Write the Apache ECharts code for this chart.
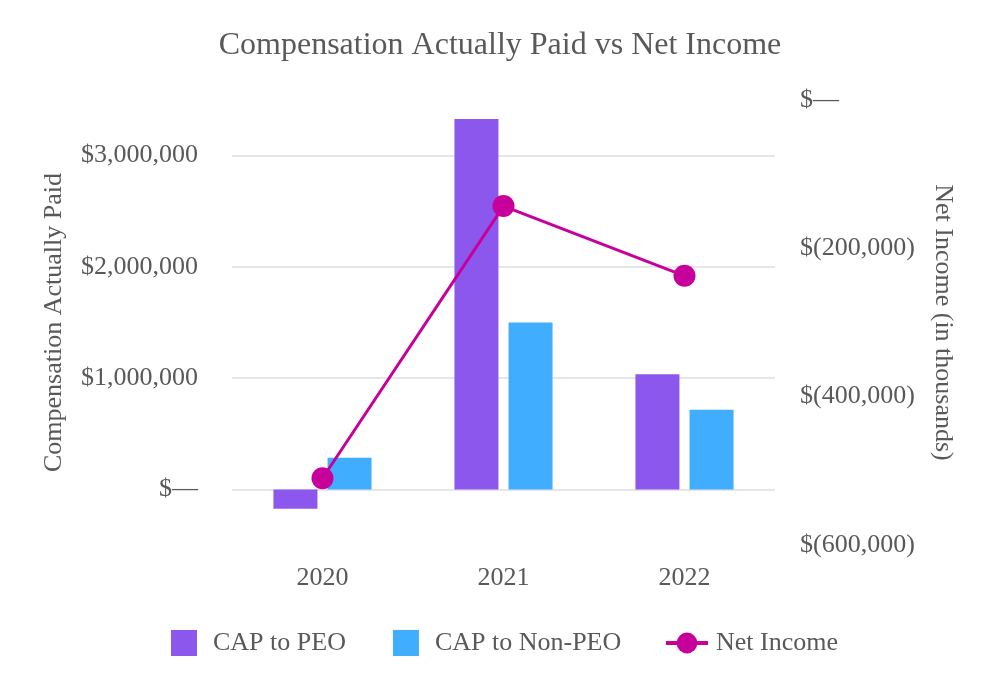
<!DOCTYPE html>
<html><head><meta charset="utf-8">
<script src="https://cdn.jsdelivr.net/npm/echarts@6/dist/echarts.min.js"></script>
<style>html,body{margin:0;padding:0;background:#fff}#c{width:1000px;height:700px}</style>
</head><body><div id="c"></div>
<script>
const categories = ['2020', '2021', '2022'];
const capPEO = [-175000, 3330000, 1035000];
const capNonPEO = [285000, 1500000, 715000];
const netIncome = [-510000, -143000, -237000];
const leftTicks = [0, 1000000, 2000000, 3000000];
const rightTicks = [0, -200000, -400000, -600000];

const FONT = 'Liberation Serif';
const TXT = '#595959';
function fmtLeft(v){ return v === 0 ? '$\u2014' : '$' + Math.round(v).toLocaleString('en-US'); }
function fmtRight(v){ if (v === 0) return '$\u2014'; return v < 0 ? '$(' + Math.abs(v).toLocaleString('en-US') + ')' : '$' + v.toLocaleString('en-US'); }

const chart = echarts.init(document.getElementById('c'), null, {renderer: 'canvas'});
chart.setOption({
  animation: false,
  backgroundColor: '#ffffff',
  textStyle: {fontFamily: FONT, color: TXT},
  title: {
    text: 'Compensation Actually Paid vs Net Income',
    left: 'center', top: 25,
    textStyle: {fontFamily: FONT, fontSize: 32, fontWeight: 'normal', color: TXT}
  },
  legend: [{
    data: ['CAP to PEO', 'CAP to Non-PEO'],
    left: 171, top: 630, padding: 0, itemWidth: 26, itemHeight: 26, itemGap: 47,
    icon: 'rect',
    textStyle: {fontFamily: FONT, fontSize: 26, color: TXT, padding: [0, 0, 0, 11]}
  }, {
    data: ['Net Income'],
    left: 664, top: 630, padding: 0, itemWidth: 42, itemHeight: 26,
    lineStyle: {width: 4},
    textStyle: {fontFamily: FONT, fontSize: 26, color: TXT, padding: [0, 0, 0, 3]}
  }],
  grid: {left: 232, right: 225, top: 100, bottom: 155},
  xAxis: {
    type: 'category', data: categories,
    axisLine: {show: false}, axisTick: {show: false},
    axisLabel: {fontFamily: FONT, fontSize: 26, color: TXT, margin: 20}
  },
  yAxis: [{
    type: 'value', position: 'left',
    min: -500000, max: 3500000, interval: 500000,
    name: 'Compensation Actually Paid', nameLocation: 'middle', nameRotate: 90, nameGap: 165,
    nameTextStyle: {fontFamily: FONT, fontSize: 26, color: TXT},
    axisLine: {show: false},
    axisTick: {show: false, customValues: leftTicks},
    axisLabel: {customValues: leftTicks, formatter: fmtLeft, fontFamily: FONT, fontSize: 26, color: TXT, margin: 34},
    splitLine: {show: true, lineStyle: {color: '#e6e6e6', width: 2}}
  }, {
    type: 'value', position: 'right',
    min: -600000, max: 0, interval: 200000,
    name: 'Net Income (in thousands)', nameLocation: 'middle', nameRotate: -90, nameGap: 155,
    nameTextStyle: {fontFamily: FONT, fontSize: 26, color: TXT},
    axisLine: {show: false}, axisTick: {show: false},
    axisLabel: {formatter: fmtRight, fontFamily: FONT, fontSize: 26, color: TXT, margin: 25},
    splitLine: {show: false}
  }],
  series: [{
    name: 'CAP to PEO', type: 'bar', data: capPEO, yAxisIndex: 0,
    barWidth: 44, barGap: '23%',
    itemStyle: {color: '#8c57ec'}
  }, {
    name: 'CAP to Non-PEO', type: 'bar', data: capNonPEO, yAxisIndex: 0,
    barWidth: 44,
    itemStyle: {color: '#41adff'}
  }, {
    name: 'Net Income', type: 'line', data: netIncome, yAxisIndex: 1,
    symbol: 'circle', symbolSize: 22, z: 5,
    lineStyle: {color: '#c8009b', width: 3},
    itemStyle: {color: '#c8009b'}
  }]
});
</script>
</body></html>
